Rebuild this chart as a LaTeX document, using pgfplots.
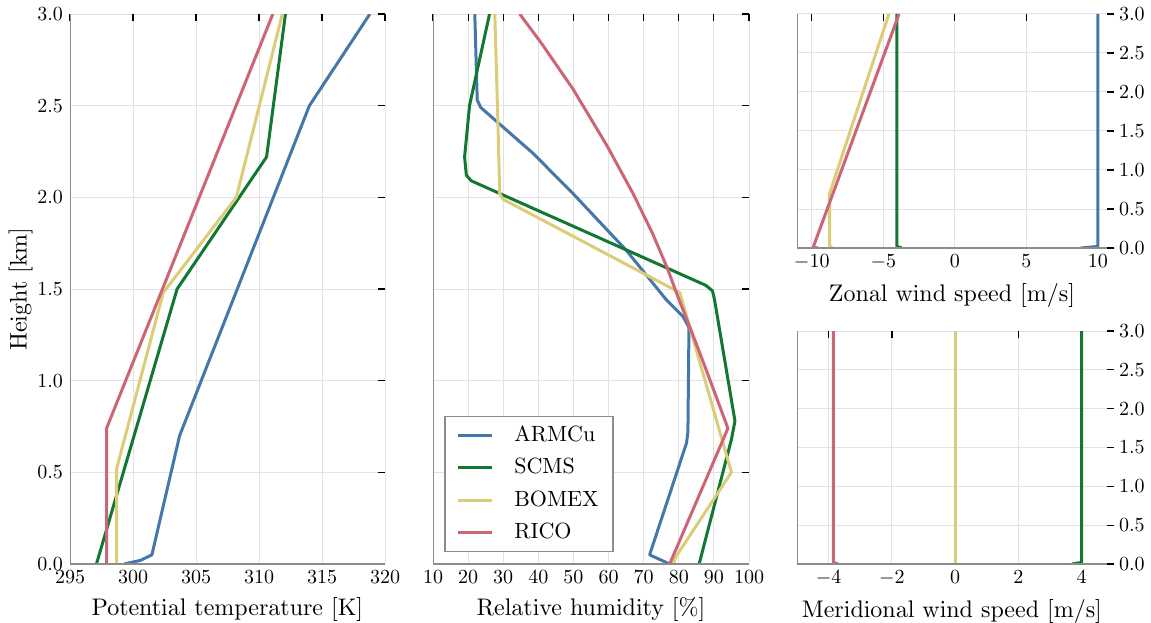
\documentclass[border=0pt]{standalone}
\usepackage{pgfplots}
\pgfplotsset{compat=1.18}
\definecolor{cA}{HTML}{4477AA}
\definecolor{cS}{HTML}{117733}
\definecolor{cB}{HTML}{DDCC77}
\definecolor{cR}{HTML}{CC6677}
\definecolor{spine}{HTML}{8C8C8C}
\definecolor{gridc}{HTML}{E2E2E2}
\font\labfont=cmr10 at 12pt
\font\legfont=cmr10 at 11pt
\tikzset{spines/.style={draw=spine, line width=0.8pt}}
\pgfplotsset{
 prof/.style={
   scale only axis,
   axis line style={draw=none},
   grid=major,
   major grid style={gridc, line width=0.5pt},
   tick style={black, line width=0.6pt},
   major tick length=3.5pt,
   tick align=inside,
   xtick pos=right, xticklabel pos=left,
   ytick pos=right,
   ymin=0, ymax=3,
   ytick={0,0.5,1,1.5,2,2.5,3},
   yticklabel style={/pgf/number format/fixed, /pgf/number format/fixed zerofill, /pgf/number format/precision=1},
   tick label style={font=\fontsize{10}{12}\selectfont},
   label style={font=\labfont},
   every axis plot/.append style={line width=1.5pt, line join=round, no markers},
 },
 rightpanel/.style={
   yticklabel pos=right,
   y tick style={xshift=3.5pt},
   yticklabel style={xshift=2.5pt},
 },
}
\begin{document}
\begin{tikzpicture}
\useasboundingbox (0,0) rectangle (575.5pt,311pt);
% ---------- Potential temperature
\begin{axis}[prof, at={(35pt,29pt)}, anchor=south west,
  width=157.5pt, height=275pt,
  xmin=295, xmax=320, xtick={295,300,...,320},
  yticklabel pos=left,
  xlabel={Potential temperature [K]}, ylabel={Height [km]},
  ylabel shift=-4.5pt,
  /pgf/number format/1000 sep={}]
\addplot[cA] coordinates {(299.3,0)(300.6,0.02)(301.5,0.05)(303.7,0.7)(314.0,2.5)(318.8,3.0)};
\addplot[cS] coordinates {(297.1,0)(303.5,1.5)(310.6,2.22)(312.1,3.0)};
\addplot[cB] coordinates {(298.7,0)(298.7,0.52)(302.4,1.48)(308.2,2.0)(311.85,3.0)};
\addplot[cR] coordinates {(297.9,0)(297.9,0.74)(311.1,3.0)};
\draw[spines] (rel axis cs:0,1) -- (rel axis cs:0,0) -- (rel axis cs:1,0);
\end{axis}
% ---------- Relative humidity
\begin{axis}[prof, at={(216.5pt,29pt)}, anchor=south west,
  width=158pt, height=275pt,
  xmin=10, xmax=100, xtick={10,20,...,100},
  yticklabels={},
  xlabel={Relative humidity [\%]},
  legend style={at={(rel axis cs:0.035,0.27)}, anchor=north west,
    draw=spine, line width=0.8pt, font=\legfont,
    row sep=3.2pt, inner xsep=6pt, inner ysep=3pt,
    nodes={inner xsep=1pt}},
  legend cell align=left,
  legend image code/.code={\draw[#1, line width=1.5pt] (0pt,0pt) -- (17pt,0pt);
     \path[draw=none] (0pt,0pt) -- (27pt,0pt);}]
\addplot[cA] coordinates {(77.4,0)(71.7,0.05)(82.2,0.66)(82.6,0.72)(82.9,1.29)(81.2,1.35)(76.5,1.44)(65.1,1.71)(49.9,2.02)(38.5,2.24)(23.6,2.49)(22.6,2.53)(21.9,3.0)};
\addplot[cS] coordinates {(85.8,0)(95,0.68)(96,0.78)(90.2,1.44)(89.6,1.49)(87.7,1.52)(20.9,2.09)(19.5,2.12)(19.0,2.22)(20.4,2.5)(26.1,3.0)};
\addplot[cB] coordinates {(78.4,0)(79.2,0.04)(95,0.5)(80.3,1.48)(29.9,1.99)(29.0,2.02)(28.5,2.4)(27.6,3.0)};
\addplot[cR] coordinates {(77.4,0)(94,0.74)(90.9,0.9)(87.0,1.1)(83.0,1.3)(80.1,1.44)(76.6,1.62)(72.6,1.8)(67.0,2.02)(59.6,2.28)(49.9,2.59)(40.9,2.84)(34.7,3.0)};
\legend{ARMCu,SCMS,BOMEX,RICO}
\draw[spines] (rel axis cs:0,1) -- (rel axis cs:0,0) -- (rel axis cs:1,0);
\end{axis}
% ---------- Zonal wind
\begin{axis}[prof, rightpanel, at={(398.5pt,187pt)}, anchor=south west,
  width=155pt, height=117pt,
  xmin=-11.03, xmax=10.63, xtick={-10,-5,0,5,10},
  xlabel={Zonal wind speed [m/s]}]
\addplot[cA] coordinates {(8.8,0)(10,0.02)(10,3)};
\addplot[cS] coordinates {(-3.7,0)(-4.05,0.02)(-4.05,3)};
\addplot[cB] coordinates {(-8.55,0)(-8.75,0.03)(-8.75,0.7)(-4.61,3)};
\addplot[cR] coordinates {(-9.55,0)(-9.9,0.01)(-3.9,3)};
\draw[spines] (rel axis cs:0,1) -- (rel axis cs:0,0) -- (rel axis cs:1,0);
\end{axis}
% ---------- Meridional wind
\begin{axis}[prof, rightpanel, at={(398.5pt,29pt)}, anchor=south west,
  width=155pt, height=116.5pt,
  xmin=-5, xmax=4.8, xtick={-4,-2,0,2,4},
  xlabel={Meridional wind speed [m/s]}]
\addplot[cA] coordinates {(0,0)(0,3)};
\addplot[cS] coordinates {(3.7,0)(4,0.02)(4,3)};
\addplot[cB] coordinates {(0,0)(0,3)};
\addplot[cR] coordinates {(-3.7,0)(-3.85,0.02)(-3.85,3)};
\draw[spines] (rel axis cs:0,1) -- (rel axis cs:0,0) -- (rel axis cs:1,0);
\end{axis}
\end{tikzpicture}
\end{document}
